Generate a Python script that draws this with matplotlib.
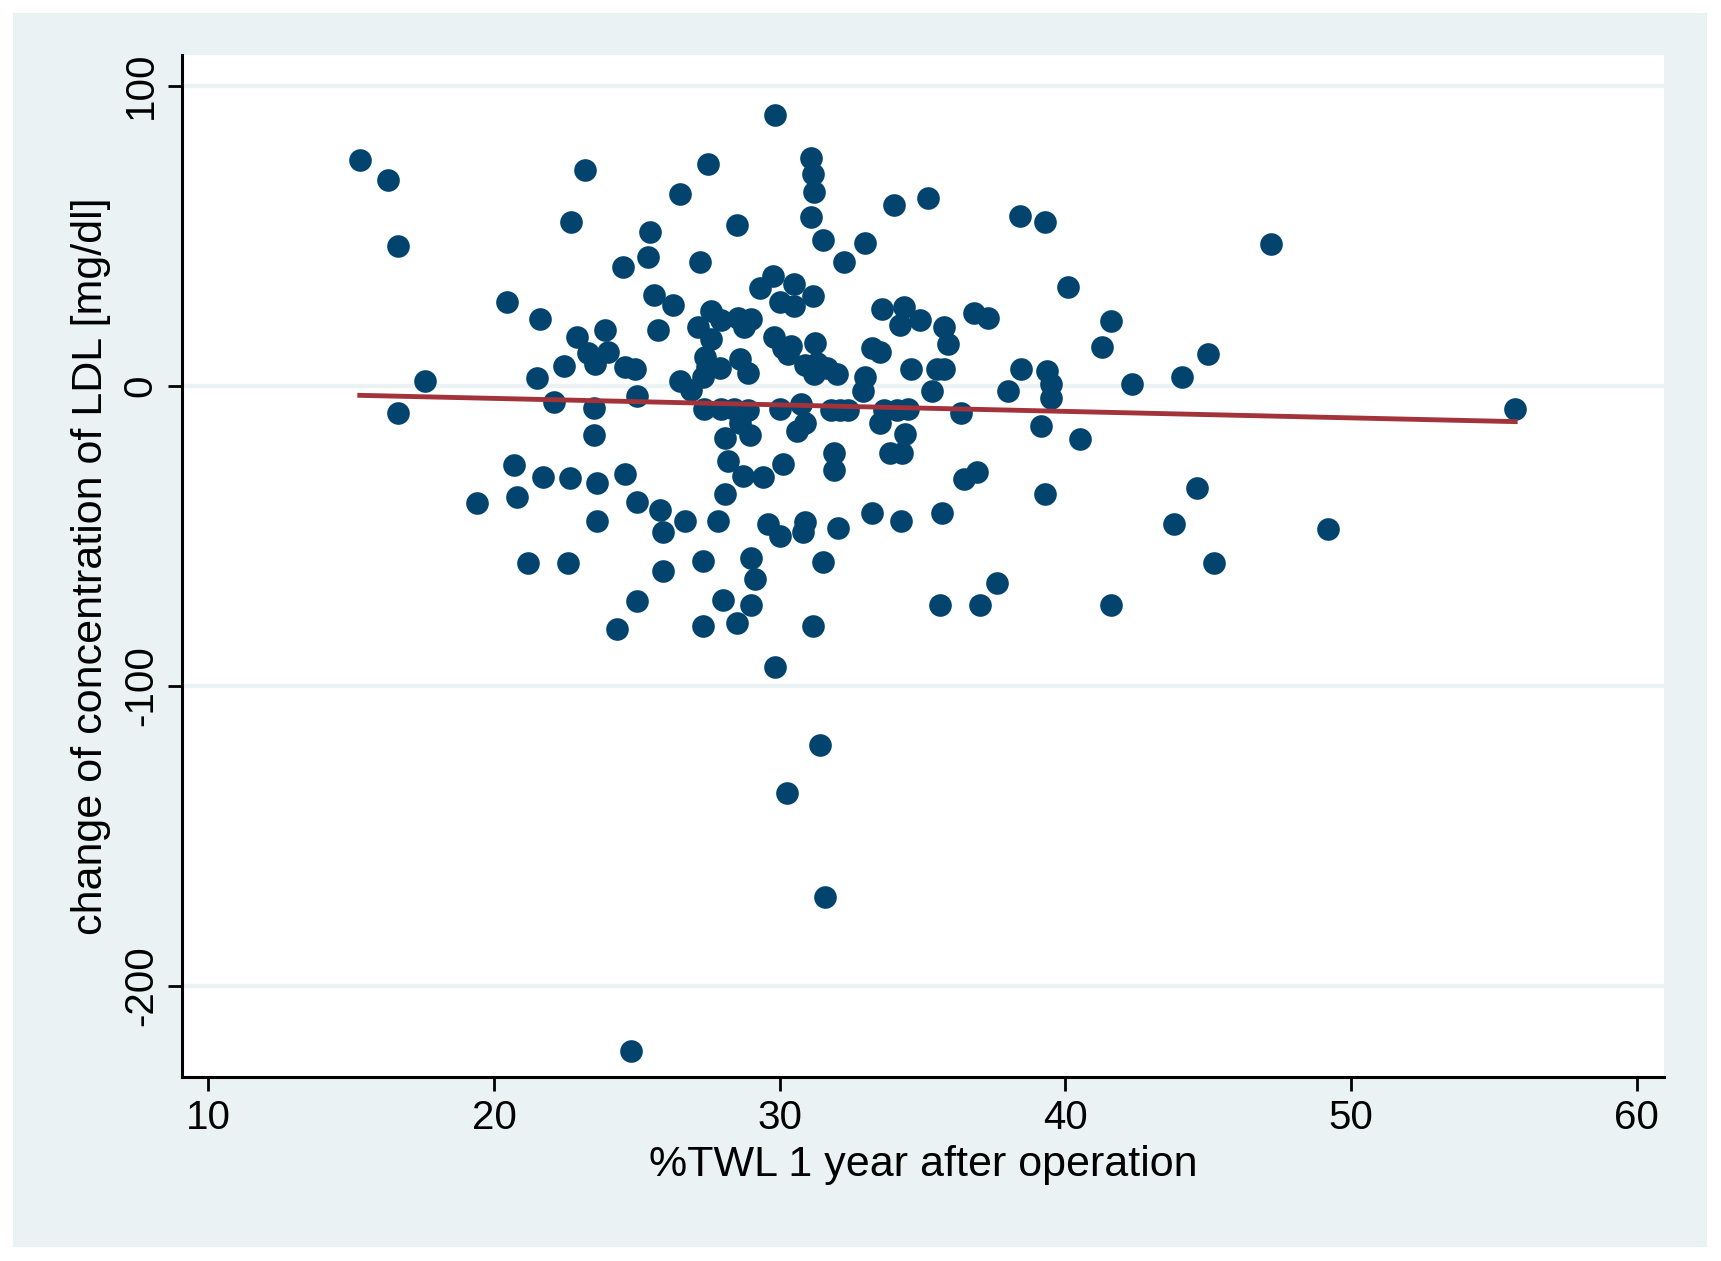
import numpy as np
import matplotlib
matplotlib.use("Agg")
import matplotlib.pyplot as plt
from matplotlib.patches import Rectangle

# %TWL 1 year after operation (x) and change of LDL concentration (y)
twl = [15.3, 16.3, 16.65, 16.65, 17.6, 19.4, 20.45, 20.7, 20.8, 21.2,
       21.5, 21.6, 21.7, 22.1, 22.45, 22.6, 22.65, 22.7, 22.9, 23.2,
       23.3, 23.5, 23.5, 23.55, 23.6, 23.6, 23.9, 24.0, 24.3, 24.5,
       24.6, 24.6, 24.8, 24.95, 25.0, 25.0, 25.0, 25.4, 25.45, 25.6,
       25.75, 25.8, 25.9, 25.9, 26.25, 26.5, 26.5, 26.7, 26.9, 27.2,
       27.15, 27.3, 27.3, 27.35, 27.4, 27.45, 27.5, 27.6, 27.6, 27.85,
       27.9, 27.95, 27.95, 28.0, 28.1, 28.1, 28.2, 28.4, 28.5, 28.5,
       28.55, 28.6, 28.6, 28.7, 28.75, 28.9, 28.95, 29.0, 28.9, 29.0,
       29.0, 29.15, 29.3, 29.4, 29.6, 29.75, 29.8, 29.85, 29.85, 30.0,
       30.0, 30.0, 30.1, 30.1, 30.25, 30.3, 30.4, 30.5, 30.5, 30.6,
       30.75, 30.8, 30.9, 30.9, 30.9, 31.1, 31.1, 31.15, 31.15, 31.15,
       31.2, 31.2, 31.25, 31.3, 31.4, 31.5, 31.5, 31.6, 31.65, 31.8,
       31.9, 31.9, 32.05, 32.0, 32.1, 32.25, 32.4, 32.9, 33.0, 33.0,
       33.25, 33.25, 33.5, 33.5, 33.6, 33.65, 33.85, 34.0, 34.1, 34.2,
       34.25, 34.3, 34.35, 34.4, 34.5, 34.6, 34.9, 35.2, 35.35, 35.5,
       35.6, 35.7, 35.75, 35.75, 35.9, 36.35, 36.45, 36.8, 36.9, 37.0,
       37.3, 37.6, 38.0, 38.4, 38.45, 39.15, 39.3, 39.3, 39.35, 39.5,
       39.5, 40.1, 40.5, 41.3, 41.6, 41.6, 42.35, 43.8, 44.1, 44.6,
       45.0, 45.2, 47.2, 49.2, 55.75, 27.3]
ldl = [75.3, 68.7, 46.4, -9.1, 1.5, -39.0, 27.8, -26.3, -37.0, -59.2,
       2.6, 22.3, -30.3, -5.5, 6.6, -59.2, -30.7, 54.5, 16.1, 72.0,
       11.0, -16.5, -7.3, 7.3, -45.0, -32.5, 18.6, 11.3, -81.0, 39.5,
       6.2, -29.3, -221.6, 5.5, -71.7, -38.8, -3.3, 43.0, 51.2, 30.3,
       18.6, -41.3, -48.6, -61.8, 27.0, 1.5, 64.0, -45.0, -1.5, 41.3,
       19.4, -58.5, -80.0, -7.7, 9.5, 6.2, 73.9, 24.9, 15.7, -45.0,
       5.8, 21.9, -7.7, -71.3, -17.5, -36.2, -25.2, -7.7, 53.4, -79.0,
       22.7, 8.8, -12.4, -30.0, 19.4, -8.0, -16.5, 22.3, 4.4, -57.4,
       -73.0, -64.3, 32.5, -30.3, -46.0, 36.6, 16.1, 90.3, -93.6, -7.7,
       27.8, -50.0, -26.0, 12.4, -135.6, 10.6, 13.2, 34.0, 26.7, -15.0,
       -6.2, -48.6, -45.3, -12.4, 6.9, 76.0, 56.3, 30.0, -80.0, 70.6,
       64.7, 4.0, 14.3, 7.7, -119.6, 48.6, -58.9, -170.4, 5.8, -8.0,
       -22.3, -28.2, -47.5, 4.0, -8.0, 41.3, -8.0, -1.8, 47.5, 2.9,
       12.4, -42.4, -12.4, 11.3, 25.6, -8.0, -22.3, 60.3, -8.0, 20.1,
       -45.0, -22.3, 26.3, -16.0, -7.7, 5.5, 21.9, 62.5, -1.8, 5.5,
       -73.0, -42.4, 19.7, 5.5, 13.9, -9.1, -31.0, 24.1, -28.9, -73.0,
       22.7, -65.8, -1.8, 56.7, 5.5, -13.5, -36.2, 54.5, 4.8, -4.0,
       0.7, 32.9, -17.9, 12.8, 21.6, -73.0, 0.7, -46.0, 2.9, -34.0,
       10.6, -59.2, 47.2, -47.9, -7.7, 3.0]

xticks = [10, 20, 30, 40, 50, 60]
yticks = [-200, -100, 0, 100]

navy = "#02446e"
maroon = "#a3333b"
bg = "#eaf2f3"

plt.rcParams['font.family'] = ['Liberation Sans', 'DejaVu Sans']
plt.rcParams['axes.unicode_minus'] = False

fig = plt.figure(figsize=(17.21, 12.61), dpi=100, facecolor="white")
fig.patches.append(Rectangle((0.0075, 0.011), 0.9842, 0.9785, transform=fig.transFigure,
                             facecolor=bg, edgecolor="none", zorder=-10))
ax = fig.add_axes([0.1058, 0.146, 0.8611, 0.8104])
ax.set_facecolor("white")

x = np.array(twl)
y = np.array(ldl)
ax.plot(x, y, "o", color=navy, markersize=16.3, markeredgewidth=0, zorder=3)

# linear fit
b, a = np.polyfit(x, y, 1)
xs = np.array([x.min(), x.max()])
ax.plot(xs, a + b * xs, color=maroon, linewidth=3.5, zorder=4)

ax.set_xlim(9.08, 60.96)
ax.set_ylim(-230.3, 110.2)
ax.set_xticks(xticks)
ax.set_yticks(yticks)
for t in yticks:
    ax.axhline(t, color=bg, linewidth=3, zorder=1)

for s in ["top", "right"]:
    ax.spines[s].set_visible(False)
for s in ["left", "bottom"]:
    ax.spines[s].set_linewidth(2.2)
ax.tick_params(direction="out", length=10, width=2, labelsize=29, pad=6)
plt.setp(ax.get_yticklabels(), rotation=90, va="center")

ax.set_xlabel("%TWL 1 year after operation", fontsize=31, labelpad=6)
ax.set_ylabel("change of concentration of LDL [mg/dl]", fontsize=31, labelpad=8)

fig.savefig("out.png", dpi=100, facecolor="white")
